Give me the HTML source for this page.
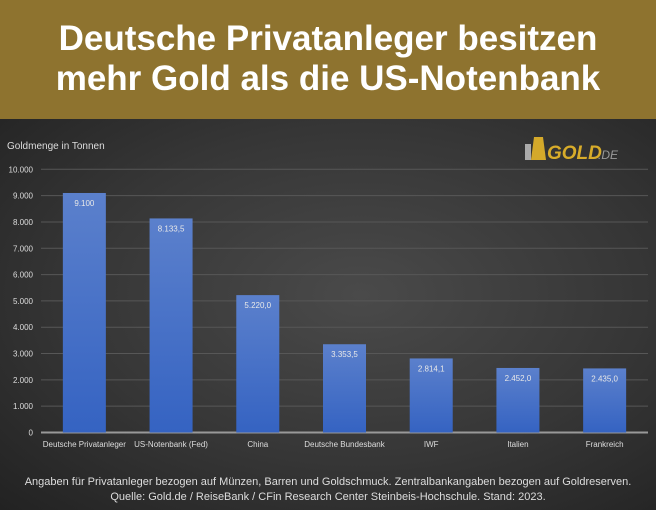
<!DOCTYPE html>
<html><head><meta charset="utf-8"><style>
body{margin:0;width:656px;height:510px;overflow:hidden;font-family:"Liberation Sans",sans-serif;}
#hdr{position:absolute;left:0;top:0;width:656px;height:119px;background:#8e732f;color:#fff;text-align:center;font-weight:bold;font-size:35px;line-height:40px;box-sizing:border-box;padding-top:19px;}
#main{position:absolute;left:0;top:119px;width:656px;height:391px;background:radial-gradient(ellipse at 55% 45%,#4a4a4a 0%,#363636 55%,#222 100%);}
.foot{position:absolute;left:0;width:656px;text-align:center;color:#ddd;font-size:11px;}
</style></head><body>
<div id="hdr">Deutsche Privatanleger besitzen<br>mehr Gold als die US-Notenbank</div>
<div id="main">
<svg width="656" height="391" viewBox="0 119 656 391" style="position:absolute;left:0;top:0">
<defs><linearGradient id="bg" x1="0" y1="0" x2="0" y2="1"><stop offset="0" stop-color="#5b80cc"/><stop offset="1" stop-color="#3563c2"/></linearGradient></defs>
<text x="7" y="149" fill="#ddd" font-size="10">Goldmenge in Tonnen</text>
<g>
<rect x="525" y="144" width="6" height="16" fill="#aaa"/><polygon points="534,137 543,137 546,160 531,160" fill="#d4a92a"/>
<text x="547" y="159" fill="#d8ac2a" font-size="19" font-weight="bold" font-style="italic">GOLD</text>
<text x="598" y="159" fill="#999" font-size="12" font-style="italic">.DE</text></g>
<g id="grid"></g><g id="bars"></g>
</svg></div>
<div class="foot" style="top:476px">Angaben für Privatanleger bezogen auf Münzen, Barren und Goldschmuck. Zentralbankangaben bezogen auf Goldreserven.</div>
<div class="foot" style="top:491px">Quelle: Gold.de / ReiseBank / CFin Research Center Steinbeis-Hochschule. Stand: 2023.</div>
<script>
const categories=["Deutsche Privatanleger","US-Notenbank (Fed)","China","Deutsche Bundesbank","IWF","Italien","Frankreich"];
const values=[9100,8133.5,5220.0,3353.5,2814.1,2452.0,2435.0];
const valueLabels=["9.100","8.133,5","5.220,0","3.353,5","2.814,1","2.452,0","2.435,0"];
const ticks=[0,1000,2000,3000,4000,5000,6000,7000,8000,9000,10000];
const tickLabels=["0","1.000","2.000","3.000","4.000","5.000","6.000","7.000","8.000","9.000","10.000"];
const NS="http://www.w3.org/2000/svg";
const x0=41,x1=648,y0=432.5,yTop=169.3,yMax=10000;
const y=v=>y0-(v/yMax)*(y0-yTop);
const bw=(x1-x0)/categories.length;
const xc=i=>x0+bw*(i+0.5);
function mk(t,a,p){const e=document.createElementNS(NS,t);for(const k in a)e.setAttribute(k,a[k]);p.appendChild(e);return e;}
const g=document.getElementById('grid'),b=document.getElementById('bars');
ticks.forEach((t,i)=>{
 const l=mk('line',{x1:x0,x2:x1,y1:y(t),y2:y(t),stroke:t===0?'#999':'#575757','stroke-width':t===0?2:1},g);
 
 
 const tx=mk('text',{x:33,y:y(t)+3,fill:'#ddd','font-size':8,'text-anchor':'end'},g);
 tx.textContent=tickLabels[i];
 
 
});
categories.forEach((c,i)=>{
 const r=mk('rect',{x:xc(i)-21.5,y:y(values[i]),width:43,height:y0-y(values[i]),fill:'url(#bg)'},b);
 
 
 const vl=mk('text',{x:xc(i),y:y(values[i])+13,fill:'#e8e8e8','font-size':8,'text-anchor':'middle'},b);
 vl.textContent=valueLabels[i];
 
 
 const cl=mk('text',{x:xc(i),y:447,fill:'#ddd','font-size':8,'text-anchor':'middle'},b);
 cl.textContent=c;
 
 
});
</script>
</body></html>
